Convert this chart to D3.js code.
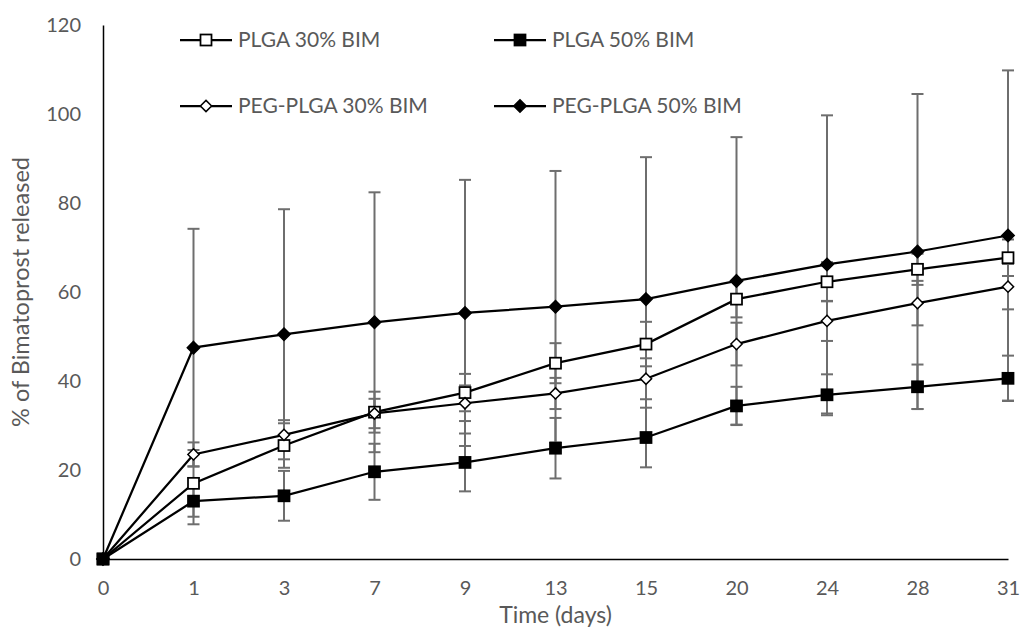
<!DOCTYPE html>
<html>
<head>
<meta charset="utf-8">
<script src="https://cdn.jsdelivr.net/npm/d3@7/dist/d3.min.js"></script>
<style>
  html, body { margin: 0; padding: 0; background: #fff; }
  svg { display: block; }
  text { font-family: Lato, "Open Sans", sans-serif; fill: #595959; }
</style>
</head>
<body>
<svg id="chart" width="1021" height="630"></svg>
<script>
// ---- data ----
const days = ["0", "1", "3", "7", "9", "13", "15", "20", "24", "28", "31"];
const yTicks = [0, 20, 40, 60, 80, 100, 120];

const seriesNames = ["PLGA 30% BIM", "PLGA 50% BIM", "PEG-PLGA 30% BIM", "PEG-PLGA 50% BIM"];

const plga30 = [0, 17.0, 25.5, 33.0, 37.4, 44.0, 48.3, 58.4, 62.3, 65.1, 67.7];
const plga30Err = [0, 7.5, 5.0, 4.6, 4.2, 4.5, 5.0, 4.1, 4.4, 3.5, 4.1];

const plga50 = [0, 13.0, 14.2, 19.6, 21.7, 24.9, 27.3, 34.4, 36.9, 38.7, 40.6];
const plga50Err = [0, 5.2, 5.6, 6.3, 6.5, 6.8, 6.7, 4.3, 4.6, 5.0, 5.1];

const peg30 = [0, 23.5, 27.9, 32.7, 35.0, 37.2, 40.5, 48.3, 53.5, 57.5, 61.2];
const peg30Err = [0, 2.7, 3.3, 3.3, 4.0, 3.5, 4.6, 4.8, 4.5, 5.0, 5.1];

const peg50 = [0, 47.5, 50.5, 53.2, 55.3, 56.7, 58.4, 62.5, 66.2, 69.1, 72.7];
const peg50Err = [0, 26.7, 28.1, 29.2, 29.9, 30.5, 31.9, 32.3, 33.5, 35.4, 37.1];

const seriesValues = [plga30, plga50, peg30, peg50];
const seriesErrors = [plga30Err, plga50Err, peg30Err, peg50Err];
const seriesMarkers = ["square", "square", "diamond", "diamond"];
const seriesFilled = [false, true, false, true];

// ---- layout ----
const svg = d3.select("#chart");
const mLeft = 103, mRight = 1008, mTop = 25, mBottom = 559;

const x = d3.scalePoint().domain(days).range([mLeft, mRight]);
const y = d3.scaleLinear().domain([0, 120]).range([mBottom, mTop]);

// axes
const yAxis = d3.axisLeft(y).tickValues(yTicks).tickSize(0).tickPadding(22);
const gy = svg.append("g").attr("transform", `translate(${mLeft},0)`).call(yAxis);
gy.select(".domain").attr("stroke", "#000").attr("stroke-width", 1.5);
gy.selectAll("text").style("font-size", "20px").attr("fill", "#595959").style("font-family", "Lato");

const xAxis = d3.axisBottom(x).tickSize(0).tickPadding(22);
const gx = svg.append("g").attr("transform", `translate(0,${mBottom})`).call(xAxis);
gx.select(".domain").attr("stroke", "#000").attr("stroke-width", 1.5);
gx.selectAll("text").style("font-size", "20px").attr("fill", "#595959").style("font-family", "Lato");

// axis titles
svg.append("text")
  .attr("x", (mLeft + mRight) / 2).attr("y", 623)
  .attr("text-anchor", "middle").style("font-size", "23px")
  .text("Time (days)");
svg.append("text")
  .attr("transform", `translate(29,${(mTop + mBottom) / 2}) rotate(-90)`)
  .attr("text-anchor", "middle").style("font-size", "23.5px")
  .text("% of Bimatoprost released");

// error bars
const capW = 6;
const errG = svg.append("g").attr("stroke", "#6e6e6e").attr("stroke-width", 2);
seriesValues.forEach((vals, si) => {
  const errs = seriesErrors[si];
  days.forEach((d, i) => {
    if (!errs[i]) return;
    const cx = x(d);
    const yt = y(vals[i] + errs[i]), yb = y(vals[i] - errs[i]);
    errG.append("line").attr("x1", cx).attr("x2", cx).attr("y1", yt).attr("y2", yb);
    errG.append("line").attr("x1", cx - capW).attr("x2", cx + capW).attr("y1", yt).attr("y2", yt);
    errG.append("line").attr("x1", cx - capW).attr("x2", cx + capW).attr("y1", yb).attr("y2", yb);
  });
});

// lines
const line = d3.line().x((v, i) => x(days[i])).y(v => y(v));
seriesValues.forEach(vals => {
  svg.append("path").attr("d", line(vals)).attr("fill", "none")
    .attr("stroke", "#000").attr("stroke-width", 2.25);
});

// markers
function drawMarker(g, cx, cy, type, filled) {
  if (type === "square") {
    const s = 11;
    g.append("rect").attr("x", cx - s / 2).attr("y", cy - s / 2).attr("width", s).attr("height", s)
      .attr("fill", filled ? "#000" : "#fff").attr("stroke", "#000").attr("stroke-width", 1.75);
  } else {
    const r = filled ? 6.2 : 5.6;
    g.append("path").attr("d", `M${cx},${cy - r}L${cx + r},${cy}L${cx},${cy + r}L${cx - r},${cy}Z`)
      .attr("fill", filled ? "#000" : "#fff").attr("stroke", "#000").attr("stroke-width", 1.5);
  }
}
const markG = svg.append("g");
seriesValues.forEach((vals, si) => {
  vals.forEach((v, i) => drawMarker(markG, x(days[i]), y(v), seriesMarkers[si], seriesFilled[si]));
});

// legend
const legendPos = [[180, 40], [494, 40], [180, 106], [494, 106]];
seriesNames.forEach((name, si) => {
  const [lx, ly] = legendPos[si];
  const lg = svg.append("g");
  lg.append("line").attr("x1", lx).attr("x2", lx + 52).attr("y1", ly).attr("y2", ly)
    .attr("stroke", "#000").attr("stroke-width", 2.25);
  drawMarker(lg, lx + 26, ly, seriesMarkers[si], seriesFilled[si]);
  lg.append("text").attr("x", lx + 58).attr("y", ly).attr("dy", "0.35em")
    .style("font-size", "21px").text(name);
});
</script>
</body>
</html>
